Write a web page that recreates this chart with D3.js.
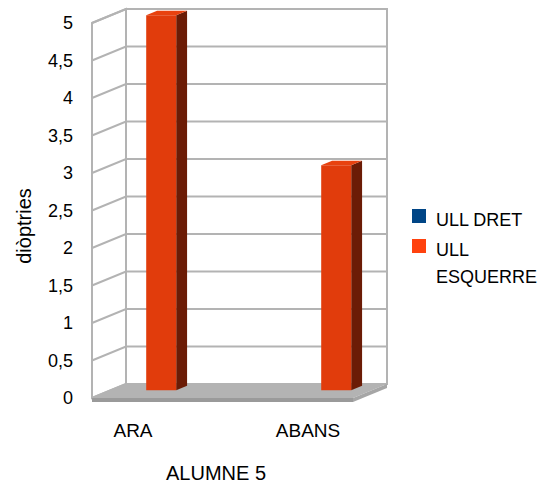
<!DOCTYPE html>
<html>
<head>
<meta charset="utf-8">
<script src="https://cdn.jsdelivr.net/npm/d3@7"></script>
<style>
  html, body { margin: 0; padding: 0; background: #fff; }
  svg { display: block; font-family: "Liberation Sans", Arial, sans-serif; }
</style>
</head>
<body>
<svg id="chart" width="537" height="486"></svg>
<script>
// Data
const categories = ["ARA", "ABANS"];
const seriesNames = ["ULL DRET", "ULL ESQUERRE"];
const ullDret = [0, 0];
const ullEsquerre = [5, 3];
const tickValues = [0, 0.5, 1, 1.5, 2, 2.5, 3, 3.5, 4, 4.5, 5];
const tickLabels = ["0", "0,5", "1", "1,5", "2", "2,5", "3", "3,5", "4", "4,5", "5"];
const yTitle = "diòptries";
const xTitle = "ALUMNE 5";

const seriesColors = ["#004586", "#ff420e"];
const frontColors = ["#004586", "#e13c0c"];
const sideColors = ["#00254a", "#6b1c06"];
const topColors = ["#0a5aa8", "#e8420f"];

const svg = d3.select("#chart");

// Frame geometry: front plane plus an oblique depth offset
const frontLeft = 92, frontRight = 353;
const depthDX = 34, depthDY = -14;
const y = d3.scaleLinear().domain([0, 5]).range([398, 23]);
const P = (x, v, d) => [x + depthDX * d, y(v) + depthDY * d];
const pts = arr => arr.map(p => p.join(",")).join(" ");

const gridColor = "#b3b3b3";

// Back wall
const gWalls = svg.append("g");
gWalls.append("polygon")
  .attr("points", pts([P(frontLeft, 0, 1), P(frontLeft, 5, 1), P(frontRight, 5, 1), P(frontRight, 0, 1)]))
  .attr("fill", "#fff").attr("stroke", gridColor).attr("stroke-width", 2);
// Left wall
gWalls.append("polygon")
  .attr("points", pts([P(frontLeft, 0, 0), P(frontLeft, 5, 0), P(frontLeft, 5, 1), P(frontLeft, 0, 1)]))
  .attr("fill", "#fff").attr("stroke", gridColor).attr("stroke-width", 2);

// Gridlines on both walls
tickValues.forEach(v => {
  gWalls.append("polyline")
    .attr("points", pts([P(frontLeft, v, 0), P(frontLeft, v, 1), P(frontRight, v, 1)]))
    .attr("fill", "none").attr("stroke", gridColor).attr("stroke-width", 2);
});

// Floor slab
const floorT = 4;
const gFloor = svg.append("g");
gFloor.append("polygon")
  .attr("points", pts([P(frontLeft, 0, 0), P(frontRight, 0, 0), P(frontRight, 0, 1), P(frontLeft, 0, 1)]))
  .attr("fill", "#b3b3b3");
gFloor.append("polygon")
  .attr("points", pts([P(frontLeft, 0, 0), P(frontRight, 0, 0),
    [frontRight, y(0) + floorT], [frontLeft, y(0) + floorT]]))
  .attr("fill", "#9a9a9a");
gFloor.append("polygon")
  .attr("points", pts([P(frontRight, 0, 0), P(frontRight, 0, 1),
    [P(frontRight, 0, 1)[0], P(frontRight, 0, 1)[1] + floorT], [frontRight, y(0) + floorT]]))
  .attr("fill", "#a6a6a6");

// Category and series scales
const x0 = d3.scaleBand().domain(categories).range([40, 390]);
const x1 = d3.scaleBand().domain(seriesNames).range([0, x0.bandwidth()]).paddingOuter(1.9166);
const barD1 = 0.55, barD2 = 0.87;

const seriesData = [ullDret, ullEsquerre];
const gBars = svg.append("g");
categories.forEach((c, ci) => {
  seriesNames.forEach((s, si) => {
    const v = seriesData[si][ci];
    if (!(v > 0)) return;
    const xa = x0(c) + x1(s), xb = xa + x1.bandwidth();
    const g = gBars.append("g");
    g.append("polygon")
      .attr("points", pts([P(xb, v, barD1), P(xb, v, barD2), P(xb, 0, barD2), P(xb, 0, barD1)]))
      .attr("fill", sideColors[si]);
    g.append("polygon")
      .attr("points", pts([P(xa, v, barD1), P(xb, v, barD1), P(xb, v, barD2), P(xa, v, barD2)]))
      .attr("fill", topColors[si]);
    g.append("polygon")
      .attr("points", pts([P(xa, v, barD1), P(xb, v, barD1), P(xb, 0, barD1), P(xa, 0, barD1)]))
      .attr("fill", frontColors[si]);
  });
});

// Y tick labels
const fs = 18;
svg.append("g").selectAll("text").data(tickValues).join("text")
  .attr("x", 73).attr("y", v => y(v))
  .attr("dy", "0.36em")
  .attr("text-anchor", "end")
  .attr("font-size", fs).attr("fill", "#000")
  .text((v, i) => tickLabels[i]);

// X category labels
svg.append("g").selectAll("text").data(categories).join("text")
  .attr("x", (c, i) => [133, 308][i])
  .attr("y", 437)
  .attr("text-anchor", "middle")
  .attr("font-size", 19).attr("fill", "#000")
  .text(c => c);

// Axis titles
svg.append("text")
  .attr("transform", "translate(31,226) rotate(-90)")
  .attr("text-anchor", "middle")
  .attr("font-size", 20).attr("fill", "#000")
  .text(yTitle);
svg.append("text")
  .attr("x", 216).attr("y", 480)
  .attr("text-anchor", "middle")
  .attr("font-size", 20).attr("fill", "#000")
  .text(xTitle);

// Legend
const legend = svg.append("g");
const legendLines = [["ULL DRET"], ["ULL", "ESQUERRE"]];
const legendY = [209, 239];
seriesNames.forEach((s, i) => {
  legend.append("rect")
    .attr("x", 412).attr("y", legendY[i]).attr("width", 14).attr("height", 14)
    .attr("fill", seriesColors[i]);
  legendLines[i].forEach((t, j) => {
    legend.append("text")
      .attr("x", 436).attr("y", legendY[i] + 17 + j * 27)
      .attr("font-size", fs).attr("fill", "#000")
      .text(t);
  });
});
</script>
</body>
</html>
